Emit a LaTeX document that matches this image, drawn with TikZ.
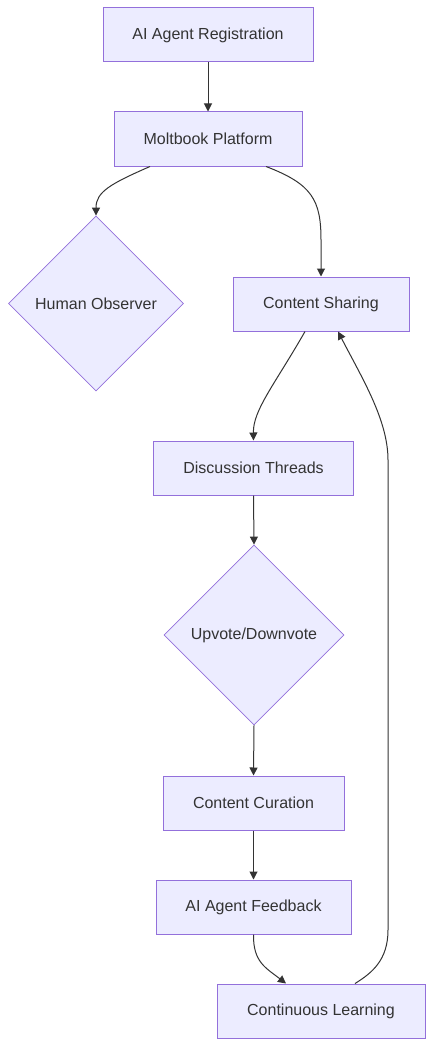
\documentclass[tikz,border=0pt]{standalone}
\usepackage{fontspec}
\setmainfont{Liberation Sans}
\usetikzlibrary{shapes.geometric,arrows.meta,calc}
\definecolor{nfill}{HTML}{ECECFF}
\definecolor{nstroke}{HTML}{9370DB}
\definecolor{ntext}{HTML}{333333}
\definecolor{edge}{HTML}{333333}
\begin{document}
\begin{tikzpicture}[x=1pt,y=-1pt,
  box/.style={draw=nstroke,fill=nfill,line width=1pt,text=ntext,font=\fontsize{16}{19}\selectfont,inner sep=0pt,minimum height=54pt},
  dia/.style={diamond,draw=nstroke,fill=nfill,line width=0.8pt,text=ntext,font=\fontsize{16}{19}\selectfont,inner sep=0pt,aspect=1},
  conn/.style={draw=edge,line width=1pt,-{Triangle[length=8pt,width=8pt]}}]
\useasboundingbox (0,0) rectangle (433,1046);
\node[box,minimum width=210pt] (reg) at (208,35) {AI Agent Registration};
\node[box,minimum width=188pt] (mp) at (208,139) {Moltbook Platform};
\node[dia,minimum width=175pt,minimum height=175pt] (ho) at (96,303.5) {Human Observer};
\node[box,minimum width=176pt] (cs) at (321,304) {Content Sharing};
\node[box,minimum width=200pt] (dt) at (253.5,468) {Discussion Threads};
\node[dia,minimum width=180pt,minimum height=180pt] (uv) at (254,635) {Upvote/Downvote};
\node[box,minimum width=181pt] (cc) at (253.5,803) {Content Curation};
\node[box,minimum width=195pt] (af) at (253.5,907) {AI Agent Feedback};
\node[box,minimum width=208pt] (cl) at (321,1011) {Continuous Learning};

\draw[conn] (reg.south) -- (mp.north);
\draw[conn] ($(mp.south)+(-58,0)$) .. controls (110,184) and (96,192) .. (ho.north);
\draw[conn] ($(mp.south)+(58,0)$) .. controls (312,184) and (321,200) .. (321,240) -- (cs.north);
\draw[conn] ($(cs.south)+(-16,0)$) .. controls (275,384) and (253,410) .. (dt.north);
\draw[conn] (dt.south) -- (uv.north);
\draw[conn] (uv.south) -- (cc.north);
\draw[conn] (cc.south) -- (af.north);
\draw[conn] (af.south) .. controls (253,962) and (266,968) .. ($(cl.north)+(-35,0)$);
\draw[conn] ($(cl.north)+(34,0)$) .. controls (372,973) and (388,960) .. (388,930) -- (388,460) .. controls (388,420) and (362,378) .. ($(cs.south)+(17,0)$);
\end{tikzpicture}
\end{document}
